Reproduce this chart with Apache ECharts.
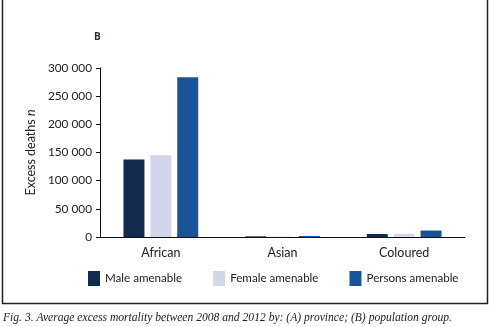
<!DOCTYPE html>
<html><head><meta charset="utf-8">
<script src="https://cdn.jsdelivr.net/npm/echarts@6/dist/echarts.min.js"></script>
<style>html,body{margin:0;padding:0;background:#fff}#c{width:492px;height:327px}</style>
</head><body><div id="c"></div>
<script>
var categories = ['African', 'Asian', 'Coloured'];
var maleAmenable = [137500, 1200, 5300];
var femaleAmenable = [145000, 600, 5800];
var personsAmenable = [283500, 1800, 11500];
var seriesNames = ['Male amenable', 'Female amenable', 'Persons amenable'];
var colors = ['#102b50', '#d3d6ea', '#1b5398'];

var chart = echarts.init(document.getElementById('c'), null, {renderer: 'canvas'});
var fontSans = 'Lato, "Open Sans", sans-serif';
function mk(name, data, color) {
  return {name: name, type: 'bar', data: data, barWidth: 21, barGap: '28%',
    itemStyle: {color: color}};
}
chart.setOption({
  animation: false,
  color: colors,
  grid: {left: 100, right: 27, top: 68, bottom: 90, containLabel: false},
  xAxis: {type: 'category', data: categories,
    axisLine: {lineStyle: {color: '#111', width: 1}},
    axisTick: {show: false},
    axisLabel: {color: '#222', fontSize: 12.5, fontFamily: fontSans, margin: 9}},
  yAxis: {type: 'value', min: 0, max: 300000, interval: 50000,
    name: '{a|Excess deaths }{b|n}', nameLocation: 'middle', nameGap: 61, nameRotate: 90,
    nameTextStyle: {rich: {a: {fontSize: 12.5, fontFamily: fontSans, color: '#222'},
                           b: {fontSize: 12.5, fontFamily: fontSans, fontStyle: 'italic', color: '#222'}}},
    axisLine: {show: true, lineStyle: {color: '#111', width: 1}},
    axisTick: {show: true, length: 4, lineStyle: {color: '#111'}},
    splitLine: {show: false},
    axisLabel: {color: '#222', fontSize: 11.8, fontFamily: fontSans, margin: 8,
      formatter: function (v) { return v === 0 ? '0' : String(v).replace(/\B(?=(\d{3})+(?!\d))/g, ' '); }}},
  legend: {data: seriesNames, left: 83, top: 266, width: 420, itemWidth: 12, itemHeight: 15, itemGap: 31,
    icon: 'rect',
    textStyle: {color: '#222', fontSize: 11.6, fontFamily: fontSans}},
  series: [mk(seriesNames[0], maleAmenable, colors[0]), mk(seriesNames[1], femaleAmenable, colors[1]), mk(seriesNames[2], personsAmenable, colors[2])],
  graphic: [
    {type: 'rect', shape: {x: 2.5, y: -10, width: 485, height: 313.5}, style: {fill: 'none', stroke: '#222', lineWidth: 1.5}, silent: true},
    {type: 'text', left: 94, top: 32, style: {text: 'B', font: 'bold 10px "Open Sans", sans-serif', fill: '#3a2a20'}},
    {type: 'text', left: 3, top: 312, style: {text: 'Fig. 3. Average excess mortality between 2008 and 2012 by: (A) province; (B) population group.', font: 'italic 11.6px "Liberation Serif", serif', fill: '#222'}}
  ]
});
</script></body></html>
